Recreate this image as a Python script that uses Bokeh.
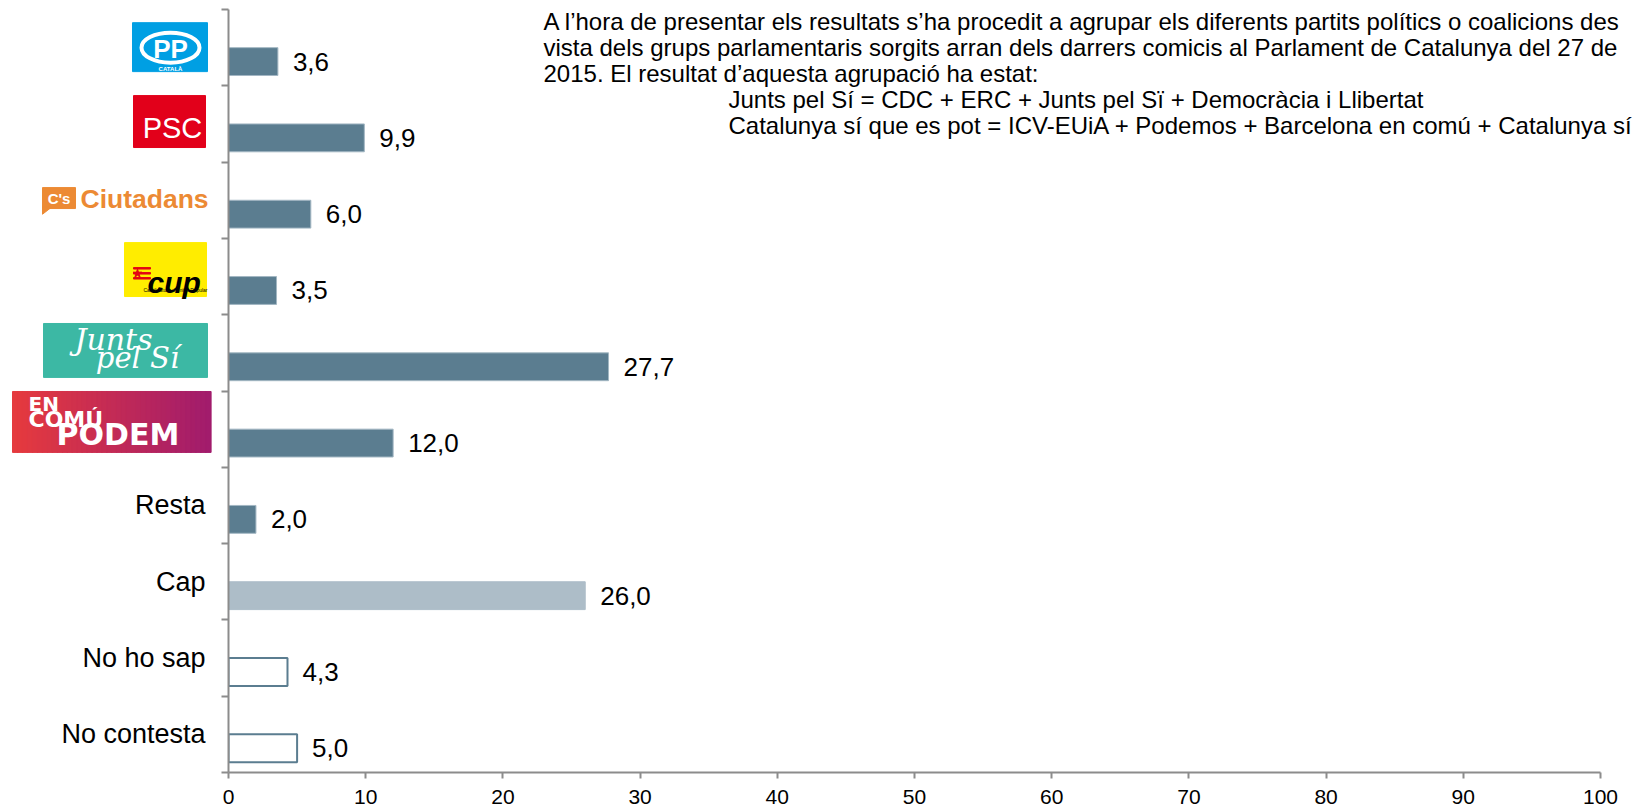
from bokeh.plotting import figure
from bokeh.models import Range1d, FixedTicker, Label, ColumnDataSource, LinearAxis
from bokeh.layouts import row
from bokeh.embed import file_html
from bokeh.resources import INLINE
from bokeh.core.properties import value

# ---------------- data ----------------
categories = ["PP", "PSC", "Ciutadans", "CUP", "Junts pel Sí", "En Comú Podem",
              "Resta", "Cap", "No ho sap", "No contesta"]
values = [3.6, 9.9, 6.0, 3.5, 27.7, 12.0, 2.0, 26.0, 4.3, 5.0]
value_labels = ["3,6", "9,9", "6,0", "3,5", "27,7", "12,0", "2,0", "26,0", "4,3", "5,0"]
bar_kind = ["party", "party", "party", "party", "party", "party", "party",
            "none", "unknown", "unknown"]
text_categories = ["Resta", "Cap", "No ho sap", "No contesta"]
x_ticks = [0, 10, 20, 30, 40, 50, 60, 70, 80, 90, 100]
note_lines = [
    "A l\u2019hora de presentar els resultats s\u2019ha procedit a agrupar els diferents partits pol\u00edtics o coalicions des",
    "vista dels grups parlamentaris sorgits arran dels darrers comicis al Parlament de Catalunya del 27 de",
    "2015. El resultat d\u2019aquesta agrupaci\u00f3 ha estat:",
    "Junts pel S\u00ed = CDC + ERC + Junts pel S\u00ef + Democr\u00e0cia i Llibertat",
    "Catalunya s\u00ed que es pot = ICV-EUiA + Podemos + Barcelona en com\u00fa + Catalunya s\u00ed",
]

FONT = value("Liberation Sans")
AX = "#8c8c8c"
DARK = "#5b7d90"
LIGHT = "#adbdc8"

n = len(categories)
centers = [n - 0.5 - i for i in range(n)]
bar_y = [c - 0.1825 for c in centers]
fill_map = {"party": DARK, "none": LIGHT, "unknown": "#ffffff"}
line_map = {"party": "#a3b7c3", "none": LIGHT, "unknown": DARK}
lw_map = {"party": 1.0, "none": 1.0, "unknown": 2.0}
src = ColumnDataSource(dict(
    y=bar_y, value=values, label=value_labels,
    fill=[fill_map[k] for k in bar_kind],
    line=[line_map[k] for k in bar_kind],
    lw=[lw_map[k] for k in bar_kind],
))

W_TOTAL = 1633
H = 806
WL = 213
TOP = 9
BOTTOM = 33
SLOT = (H - TOP - BOTTOM) / n
FRAME_W = W_TOTAL - WL - 15
X_END = 100 * FRAME_W / (1600 - 228)

# ---------------- main chart ----------------
p = figure(width=W_TOTAL - WL, height=H, x_range=Range1d(0, X_END), y_range=Range1d(0, n),
           output_backend="svg", toolbar_location=None,
           min_border_left=15, min_border_right=0, min_border_top=TOP,
           min_border_bottom=BOTTOM)
p.outline_line_color = None
p.grid.visible = False

p.hbar(y="y", left=0, right="value", height=0.365, source=src,
       fill_color="fill", line_color="line", line_width="lw")
p.text(x="value", y="y", text="label", source=src, x_offset=15,
       text_baseline="middle", text_align="left", text_font=FONT,
       text_font_size="26px", text_color="#000000")

xa = p.xaxis[0]
xa.ticker = FixedTicker(ticks=x_ticks)
xa.bounds = (0, 100)
xa.axis_line_color = AX
xa.axis_line_width = 2
xa.major_tick_line_color = AX
xa.major_tick_line_width = 2
xa.major_tick_out = 6
xa.major_tick_in = 0
xa.minor_tick_line_color = None
xa.major_label_text_font = "Liberation Sans"
xa.major_label_text_font_size = "21px"
xa.major_label_text_color = "#000000"
xa.major_label_standoff = 11

ya = p.yaxis[0]
ya.ticker = FixedTicker(ticks=list(range(n + 1)))
ya.major_label_overrides = {i: "" for i in range(n + 1)}
ya.major_label_standoff = 0
ya.axis_line_color = AX
ya.axis_line_width = 2
ya.major_tick_line_color = AX
ya.major_tick_line_width = 2
ya.major_tick_out = 7
ya.major_tick_in = 0
ya.minor_tick_line_color = None


def ydata_page(py):
    # page y (px) -> data y in main chart
    return n - (py - TOP) / SLOT


note_x = [22.96, 22.96, 22.96, 36.44, 36.44]
note_y = [21, 47, 73, 99, 125]
for txt, lx, ly in zip(note_lines, note_x, note_y):
    p.add_layout(Label(x=lx, y=ydata_page(ly), text=txt, text_font="Liberation Sans",
                       text_font_size="24px", text_baseline="middle", text_color="#000000"))

# ---------------- left column: logos and labels ----------------
lf = figure(width=WL, height=H, x_range=Range1d(0, WL), y_range=p.y_range,
            output_backend="svg", toolbar_location=None,
            x_axis_type=None, y_axis_type=None,
            min_border_left=0, min_border_right=0, min_border_top=TOP,
            min_border_bottom=BOTTOM)
lf.outline_line_color = None
lf.grid.visible = False
ghost = LinearAxis(ticker=FixedTicker(ticks=[100]), axis_line_color=None,
                   major_tick_line_color=None, minor_tick_line_color=None,
                   major_tick_out=6, major_tick_in=0, major_label_standoff=11,
                   major_label_text_font="Liberation Sans", major_label_text_font_size="21px",
                   major_label_text_color=None)
lf.add_layout(ghost, "below")


def yd(i, dpx):
    # slot centre of category i, shifted dpx pixels downward
    return centers[i] - dpx / SLOT


# category text labels
lf.text(x=[205] * len(text_categories), y=centers[6:], text=text_categories,
        text_align="right", text_baseline="middle", text_font=FONT,
        text_font_size="27px", text_color="#000000")

# PP
lf.quad(left=132, right=207, top=yd(0, -25), bottom=yd(0, 24), color="#009fe3")
lf.ellipse(x=170, y=yd(0, 0), width=58, height=30, width_units="screen",
           height_units="screen", fill_color=None, line_color="white", line_width=4)
lf.text(x=[170], y=[yd(0, 1)], text=["PP"], text_align="center", text_baseline="middle",
        text_font=FONT, text_font_style="bold", text_font_size="26px",
        text_color="white")
lf.text(x=[170], y=[yd(0, 21)], text=["CATALÀ"], text_align="center", text_baseline="middle",
        text_font=FONT, text_font_style="bold", text_font_size="6px", text_color="white")

# PSC
lf.quad(left=133, right=205, top=yd(1, -28.4), bottom=yd(1, 23.6), color="#e2001a")
lf.text(x=[172], y=[yd(1, 4.5)], text=["PSC"], text_align="center", text_baseline="middle",
        text_font=FONT, text_font_size="29px", text_color="white")

# Ciutadans
lf.quad(left=42, right=75, top=yd(2, -12.7), bottom=yd(2, 8.3), color="#ec8a34")
lf.patch(x=[42, 42, 51], y=[yd(2, 7), yd(2, 14), yd(2, 7)], color="#ec8a34")
lf.text(x=[58.5], y=[yd(2, -2)], text=["C's"], text_align="center", text_baseline="middle",
        text_font=FONT, text_font_style="bold", text_font_size="15px", text_color="white")
lf.text(x=[80], y=[yd(2, -1)], text=["Ciutadans"], text_align="left", text_baseline="middle",
        text_font=FONT, text_font_style="bold", text_font_size="26.5px", text_color="#ec8a34")

# CUP
lf.quad(left=124, right=206, top=yd(3, -34), bottom=yd(3, 20), color="#ffed00")
lf.quad(left=[133] * 3, right=[150] * 3,
        top=[yd(3, -9), yd(3, -4), yd(3, 1)], bottom=[yd(3, -7.5), yd(3, -2.5), yd(3, 2.5)],
        color="#e30613")
lf.scatter(x=[137], y=[yd(3, -3)], marker="star", size=9, color="#e30613")
lf.text(x=[147], y=[yd(3, 6)], text=["cup"], text_align="left", text_baseline="alphabetic",
        text_font=FONT, text_font_style="bold italic", text_font_size="30px", text_color="#000000")
lf.text(x=[175], y=[yd(3, 13)], text=["Candidatura d'Unitat Popular"], text_align="center",
        text_baseline="middle", text_font=FONT, text_font_size="5px", text_color="#000000")

# Junts pel Sí
lf.quad(left=43, right=207, top=yd(4, -29.4), bottom=yd(4, 24.6), color="#3cb8a4")
lf.text(x=[113], y=[yd(4, -13)], text=["Junts"], text_align="center", text_baseline="middle",
        text_font=value("DejaVu Serif"), text_font_style="italic", text_font_size="30px",
        text_color="white")
lf.text(x=[137], y=[yd(4, 5)], text=["pel Sí"], text_align="center", text_baseline="middle",
        text_font=value("DejaVu Serif"), text_font_style="italic", text_font_size="29px",
        text_color="white")

# En Comú Podem (gradient)
steps = 40
x0, x1 = 12, 210
c0, c1 = (229, 58, 62), (162, 28, 108)
gl, gr, gc = [], [], []
for k in range(steps):
    t = k / (steps - 1)
    col = tuple(round(a + (b - a) * t) for a, b in zip(c0, c1))
    gl.append(x0 + (x1 - x0) * k / steps)
    gr.append(x0 + (x1 - x0) * (k + 1) / steps + 0.6)
    gc.append("#%02x%02x%02x" % col)
lf.quad(left=gl, right=gr, top=yd(5, -37.7), bottom=yd(5, 23.3), color=gc)
lf.text(x=[28], y=[yd(5, -25)], text=["EN"], text_align="left", text_baseline="middle",
        text_font=value("DejaVu Sans"), text_font_style="bold", text_font_size="20px",
        text_color="white")
lf.text(x=[28], y=[yd(5, -10)], text=["COMÚ"], text_align="left", text_baseline="middle",
        text_font=value("DejaVu Sans"), text_font_style="bold", text_font_size="22px",
        text_color="white")
lf.text(x=[56], y=[yd(5, 5)], text=["PODEM"], text_align="left", text_baseline="middle",
        text_font=value("DejaVu Sans"), text_font_style="bold", text_font_size="30px",
        text_color="white")

layout = row(lf, p)
open("out.html", "w").write(file_html(layout, INLINE))
